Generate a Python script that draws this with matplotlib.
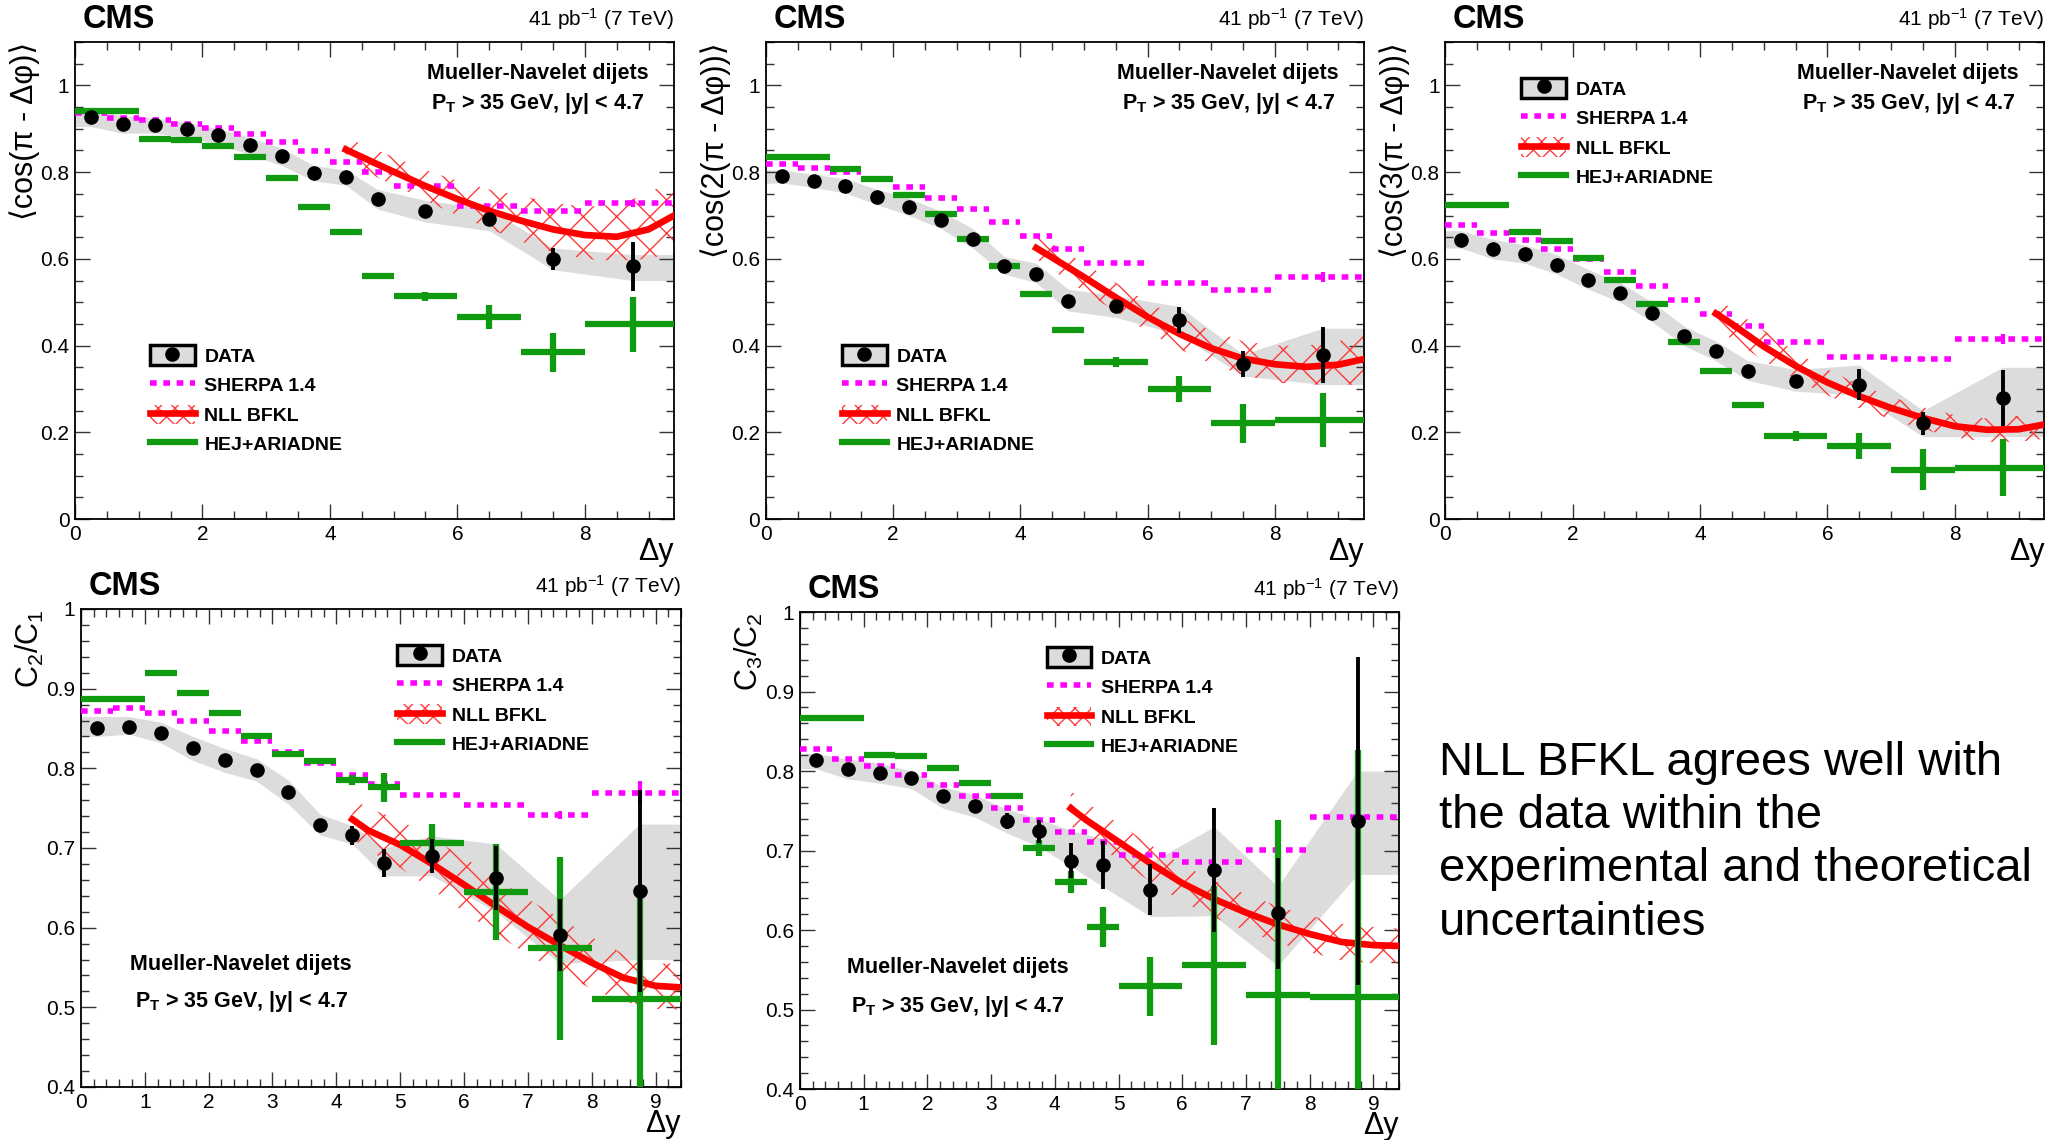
import matplotlib
matplotlib.use("Agg")
import matplotlib.pyplot as plt
import matplotlib.patches as mpatches
from matplotlib.lines import Line2D
from matplotlib.legend_handler import HandlerTuple
from matplotlib.ticker import MultipleLocator, FuncFormatter

plt.rcParams["font.family"] = ["Liberation Sans", "DejaVu Sans"]
plt.rcParams["mathtext.fontset"] = "custom"
plt.rcParams["mathtext.rm"] = "Liberation Sans"
plt.rcParams["mathtext.it"] = "Liberation Sans:italic"
plt.rcParams["mathtext.bf"] = "Liberation Sans:bold"
plt.rcParams["hatch.linewidth"] = 1.0

# %% =========================
# Datos
# ============================

bin_lo = [0, 0.5, 1, 1.5, 2, 2.5, 3, 3.5, 4, 4.5, 5, 6, 7, 8]
bin_hi = [0.5, 1, 1.5, 2, 2.5, 3, 3.5, 4, 4.5, 5, 6, 7, 8, 9.5]
x_data = [0.25, 0.75, 1.25, 1.75, 2.25, 2.75, 3.25, 3.75, 4.25, 4.75, 5.5, 6.5, 7.5, 8.75]
x_nll = [4.25, 4.5, 5, 5.5, 6, 6.5, 7, 7.5, 8, 8.5, 9, 9.4]

# <cos(pi - dphi)>
data1 = [0.927, 0.910, 0.909, 0.900, 0.885, 0.862, 0.837, 0.799, 0.789, 0.738, 0.711, 0.692, 0.600, 0.583]
stat1 = [0.003, 0.003, 0.003, 0.003, 0.003, 0.003, 0.004, 0.004, 0.005, 0.006, 0.007, 0.012, 0.025, 0.057]
syslo1 = [0.905, 0.89, 0.89, 0.88, 0.865, 0.84, 0.815, 0.78, 0.77, 0.715, 0.685, 0.665, 0.575, 0.55]
syshi1 = [0.945, 0.93, 0.925, 0.915, 0.90, 0.88, 0.855, 0.815, 0.805, 0.76, 0.735, 0.715, 0.625, 0.61]
sherpa1 = [0.937, 0.925, 0.920, 0.912, 0.902, 0.888, 0.870, 0.849, 0.824, 0.801, 0.768, 0.723, 0.711, 0.728]
sherpa_err1 = [0, 0, 0, 0, 0, 0, 0, 0, 0, 0, 0, 0, 0.004, 0.008]
hej1 = [0.942, 0.942, 0.877, 0.875, 0.860, 0.835, 0.787, 0.720, 0.663, 0.560, 0.514, 0.466, 0.385, 0.449]
hej_err1 = [0, 0, 0, 0, 0, 0, 0, 0, 0, 0.005, 0.01, 0.028, 0.045, 0.064]
nll1 = [0.852, 0.835, 0.801, 0.768, 0.738, 0.711, 0.688, 0.668, 0.655, 0.651, 0.668, 0.700]
nll_lo1 = [0.825, 0.805, 0.77, 0.735, 0.70, 0.67, 0.64, 0.615, 0.60, 0.595, 0.60, 0.615]
nll_hi1 = [0.88, 0.865, 0.835, 0.805, 0.78, 0.76, 0.745, 0.73, 0.72, 0.725, 0.75, 0.79]

# <cos(2(pi - dphi))>
data2 = [0.791, 0.779, 0.768, 0.742, 0.719, 0.689, 0.646, 0.583, 0.566, 0.503, 0.491, 0.459, 0.357, 0.378]
stat2 = [0.003, 0.003, 0.003, 0.003, 0.003, 0.003, 0.004, 0.005, 0.006, 0.006, 0.01, 0.03, 0.03, 0.065]
syslo2 = [0.775, 0.765, 0.752, 0.725, 0.70, 0.67, 0.625, 0.565, 0.545, 0.48, 0.465, 0.425, 0.33, 0.31]
syshi2 = [0.805, 0.795, 0.785, 0.76, 0.74, 0.71, 0.67, 0.605, 0.59, 0.53, 0.515, 0.49, 0.38, 0.44]
sherpa2 = [0.818, 0.810, 0.800, 0.784, 0.766, 0.741, 0.714, 0.685, 0.653, 0.623, 0.590, 0.545, 0.528, 0.558]
sherpa_err2 = [0, 0, 0, 0, 0, 0, 0, 0, 0, 0, 0, 0, 0.004, 0.012]
hej2 = [0.835, 0.835, 0.808, 0.784, 0.748, 0.703, 0.646, 0.583, 0.520, 0.436, 0.362, 0.300, 0.221, 0.228]
hej_err2 = [0, 0, 0, 0, 0, 0, 0, 0, 0.002, 0.007, 0.012, 0.03, 0.045, 0.063]
nll2 = [0.625, 0.603, 0.558, 0.511, 0.466, 0.427, 0.394, 0.370, 0.357, 0.351, 0.356, 0.369]
nll_lo2 = [0.60, 0.575, 0.525, 0.478, 0.432, 0.392, 0.358, 0.332, 0.315, 0.31, 0.31, 0.31]
nll_hi2 = [0.655, 0.635, 0.59, 0.545, 0.50, 0.465, 0.435, 0.41, 0.40, 0.40, 0.41, 0.43]

# <cos(3(pi - dphi))>
data3 = [0.643, 0.622, 0.612, 0.587, 0.551, 0.522, 0.476, 0.422, 0.388, 0.342, 0.319, 0.310, 0.221, 0.279]
stat3 = [0.003, 0.003, 0.003, 0.003, 0.003, 0.004, 0.004, 0.005, 0.006, 0.007, 0.01, 0.035, 0.027, 0.065]
syslo3 = [0.625, 0.60, 0.59, 0.565, 0.53, 0.50, 0.455, 0.40, 0.365, 0.32, 0.295, 0.285, 0.19, 0.19]
syshi3 = [0.665, 0.645, 0.632, 0.61, 0.575, 0.545, 0.50, 0.445, 0.41, 0.365, 0.345, 0.355, 0.25, 0.35]
sherpa3 = [0.677, 0.659, 0.643, 0.623, 0.600, 0.569, 0.537, 0.506, 0.472, 0.445, 0.409, 0.373, 0.369, 0.415]
sherpa_err3 = [0, 0, 0, 0, 0, 0, 0, 0, 0, 0, 0, 0, 0.005, 0.012]
hej3 = [0.724, 0.724, 0.662, 0.642, 0.602, 0.551, 0.497, 0.409, 0.342, 0.263, 0.191, 0.168, 0.114, 0.118]
hej_err3 = [0, 0, 0, 0, 0, 0, 0, 0, 0, 0.008, 0.012, 0.03, 0.047, 0.066]
nll3 = [0.474, 0.450, 0.398, 0.353, 0.315, 0.283, 0.256, 0.233, 0.214, 0.206, 0.207, 0.218]
nll_lo3 = [0.44, 0.415, 0.365, 0.322, 0.285, 0.255, 0.23, 0.207, 0.188, 0.178, 0.178, 0.185]
nll_hi3 = [0.51, 0.485, 0.435, 0.385, 0.345, 0.31, 0.282, 0.258, 0.24, 0.232, 0.238, 0.25]

# C2/C1
data4 = [0.851, 0.852, 0.844, 0.825, 0.811, 0.798, 0.770, 0.729, 0.716, 0.681, 0.690, 0.662, 0.591, 0.646]
stat4 = [0.003, 0.003, 0.003, 0.003, 0.004, 0.004, 0.005, 0.006, 0.012, 0.018, 0.021, 0.04, 0.045, 0.127]
syslo4 = [0.84, 0.843, 0.832, 0.81, 0.795, 0.784, 0.755, 0.716, 0.705, 0.665, 0.665, 0.62, 0.555, 0.56]
syshi4 = [0.865, 0.865, 0.858, 0.84, 0.825, 0.812, 0.785, 0.742, 0.728, 0.70, 0.715, 0.705, 0.635, 0.73]
sherpa4 = [0.872, 0.876, 0.869, 0.860, 0.847, 0.834, 0.820, 0.807, 0.791, 0.780, 0.767, 0.754, 0.741, 0.769]
sherpa_err4 = [0, 0, 0, 0, 0, 0, 0, 0, 0, 0, 0, 0, 0.005, 0.015]
hej4 = [0.887, 0.887, 0.920, 0.895, 0.870, 0.841, 0.818, 0.809, 0.785, 0.776, 0.706, 0.645, 0.574, 0.511]
hej_err4 = [0, 0, 0, 0, 0, 0, 0, 0, 0.006, 0.018, 0.024, 0.06, 0.115, 0.13]
nll4 = [0.736, 0.722, 0.704, 0.680, 0.654, 0.627, 0.601, 0.578, 0.556, 0.537, 0.527, 0.525]
nll_lo4 = [0.712, 0.697, 0.675, 0.648, 0.62, 0.592, 0.566, 0.544, 0.523, 0.507, 0.498, 0.497]
nll_hi4 = [0.762, 0.75, 0.735, 0.712, 0.688, 0.662, 0.636, 0.612, 0.588, 0.567, 0.555, 0.555]

# C3/C2
data5 = [0.814, 0.803, 0.797, 0.791, 0.768, 0.756, 0.737, 0.724, 0.687, 0.682, 0.651, 0.675, 0.621, 0.737]
stat5 = [0.003, 0.003, 0.003, 0.004, 0.004, 0.005, 0.01, 0.015, 0.022, 0.03, 0.032, 0.078, 0.07, 0.206]
syslo5 = [0.803, 0.79, 0.785, 0.778, 0.753, 0.742, 0.722, 0.705, 0.68, 0.655, 0.617, 0.618, 0.555, 0.67]
syshi5 = [0.822, 0.815, 0.81, 0.80, 0.78, 0.77, 0.752, 0.74, 0.725, 0.715, 0.685, 0.73, 0.655, 0.80]
sherpa5 = [0.828, 0.815, 0.806, 0.795, 0.783, 0.768, 0.753, 0.739, 0.723, 0.711, 0.695, 0.685, 0.701, 0.742]
sherpa_err5 = [0, 0, 0, 0, 0, 0, 0, 0, 0, 0, 0, 0, 0.01, 0.02]
hej5 = [0.867, 0.867, 0.820, 0.819, 0.804, 0.785, 0.769, 0.703, 0.660, 0.604, 0.529, 0.556, 0.518, 0.516]
hej_err5 = [0, 0, 0, 0, 0, 0, 0, 0.01, 0.014, 0.025, 0.037, 0.1, 0.22, 0.31]
nll5 = [0.753, 0.738, 0.711, 0.684, 0.659, 0.639, 0.622, 0.607, 0.595, 0.585, 0.581, 0.580]
nll_lo5 = [0.731, 0.716, 0.688, 0.661, 0.636, 0.616, 0.599, 0.584, 0.572, 0.562, 0.558, 0.558]
nll_hi5 = [0.775, 0.76, 0.734, 0.707, 0.682, 0.662, 0.645, 0.63, 0.618, 0.608, 0.604, 0.602]

ylabels = [
    "⟨cos(π - Δφ)⟩",
    "⟨cos(2(π - Δφ))⟩",
    "⟨cos(3(π - Δφ))⟩",
    r"C$_2$/C$_1$",
    r"C$_3$/C$_2$",
]

GREY = "#dcdcdc"
MAGENTA = "#ff00ff"
RED = "#ff0000"
HATCH_RED = "#ff3a3a"
GREEN = "#109a10"
XMAX = 9.4

# %% =========================
# Funcion para cada panel
# ============================


def dibujar_panel(ax, data, stat, syslo, syshi, sherpa, sherpa_err, hej, hej_err,
                  nll, nll_lo, nll_hi, ylabel, fila, leg_pos, txt_pos):
    # banda sistematica
    xb = [0] + x_data + [XMAX]
    lo = [syslo[0]] + syslo + [syslo[-1]]
    hi = [syshi[0]] + syshi + [syshi[-1]]
    ax.fill_between(xb, lo, hi, color=GREY, lw=0, zorder=1)

    # NLL BFKL
    ax.fill_between(x_nll, nll_lo, nll_hi, facecolor="none", edgecolor=HATCH_RED,
                    hatch="x", lw=0, zorder=2)
    ax.plot(x_nll, nll, color=RED, lw=4.8, zorder=4)

    # SHERPA
    ax.hlines(sherpa, bin_lo, bin_hi, colors=MAGENTA, linestyles=(0, (1.2, 1.2)),
              lw=4, zorder=3)
    ax.errorbar(x_data, sherpa, yerr=sherpa_err, fmt="none", ecolor=MAGENTA,
                elinewidth=3, capsize=0, zorder=3)

    # HEJ+ARIADNE
    ax.hlines(hej, bin_lo, bin_hi, colors=GREEN, lw=4.5, zorder=5)
    ax.errorbar(x_data, hej, yerr=hej_err, fmt="none", ecolor=GREEN,
                elinewidth=4.5, capsize=0, zorder=5)

    # DATA
    ax.errorbar(x_data, data, yerr=stat, fmt="o", color="black", ms=9.5,
                elinewidth=2.8, capsize=0, zorder=6)

    ax.set_xlim(0, XMAX)
    if fila == 0:
        ax.set_ylim(0, 1.1)
        ax.yaxis.set_major_locator(MultipleLocator(0.2))
        ax.yaxis.set_minor_locator(MultipleLocator(0.05))
        ax.xaxis.set_major_locator(MultipleLocator(2))
        ax.xaxis.set_minor_locator(MultipleLocator(0.5))
    else:
        ax.set_ylim(0.4, 1.0)
        ax.yaxis.set_major_locator(MultipleLocator(0.1))
        ax.yaxis.set_minor_locator(MultipleLocator(0.02))
        ax.xaxis.set_major_locator(MultipleLocator(1))
        ax.xaxis.set_minor_locator(MultipleLocator(0.2))
    fmt = FuncFormatter(lambda v, p: "%g" % round(v, 3))
    ax.xaxis.set_major_formatter(fmt)
    ax.yaxis.set_major_formatter(fmt)
    ax.tick_params(which="both", direction="in", top=True, right=True,
                   labelsize=15, width=1.0, colors="#333333", labelcolor="black")
    ax.tick_params(which="major", length=11, pad=4)
    ax.tick_params(which="minor", length=6)
    for s in ax.spines.values():
        s.set_linewidth(1.3)

    ax.set_ylabel(ylabel, fontsize=22, loc="top")
    ax.yaxis.set_label_coords(-0.058, 1.0)
    ax.set_xlabel("Δy", fontsize=22, loc="right")
    ax.xaxis.set_label_coords(1.0, -0.038 if fila == 0 else -0.047)

    ax.text(0.013, 1.048, "CMS", transform=ax.transAxes, fontsize=23.5,
            fontweight="bold", ha="left", va="center")
    ax.text(1.0, 1.048, r"41 pb$^{\mathregular{-1}}$ (7 TeV)", transform=ax.transAxes,
            fontsize=15, ha="right", va="center")

    ax.text(txt_pos[0], txt_pos[1], "Mueller-Navelet dijets", transform=ax.transAxes,
            fontsize=15.5, fontweight="bold", ha="center", va="center")
    ax.text(txt_pos[0], txt_pos[2], r"$\mathbf{P_T}$ > 35 GeV, |y| < 4.7",
            transform=ax.transAxes, fontsize=15.5, fontweight="bold",
            ha="center", va="center")

    h_data = (mpatches.Patch(facecolor=GREY, edgecolor="black", lw=2.5),
              Line2D([], [], marker="o", ls="none", color="black", ms=9.5))
    h_sherpa = Line2D([], [], color=MAGENTA, lw=4, ls=(0, (1.2, 1.2)))
    h_nll = (mpatches.Patch(facecolor="none", edgecolor=HATCH_RED, hatch="xx", lw=0),
             Line2D([], [], color=RED, lw=4.8))
    h_hej = Line2D([], [], color=GREEN, lw=4.5)
    ax.legend([h_data, h_sherpa, h_nll, h_hej],
              ["DATA", "SHERPA 1.4", "NLL BFKL", "HEJ+ARIADNE"],
              handler_map={tuple: HandlerTuple(ndivide=1)},
              loc="upper left", bbox_to_anchor=leg_pos, frameon=False,
              prop={"weight": "bold", "size": 14}, handlelength=2.3,
              handleheight=1.15, labelspacing=0.48, handletextpad=0.5,
              borderpad=0, borderaxespad=0)


# %% =========================
# Figura
# ============================

fig = plt.figure(figsize=(20.6, 11.4), dpi=100)

ax1 = fig.add_axes([0.0364, 0.5447, 0.2908, 0.4184])
ax2 = fig.add_axes([0.3718, 0.5447, 0.2903, 0.4184])
ax3 = fig.add_axes([0.7015, 0.5447, 0.2908, 0.4184])
ax4 = fig.add_axes([0.0393, 0.0465, 0.2913, 0.4193])
ax5 = fig.add_axes([0.3883, 0.0447, 0.2908, 0.4184])

dibujar_panel(ax1, data1, stat1, syslo1, syshi1, sherpa1, sherpa_err1, hej1, hej_err1,
              nll1, nll_lo1, nll_hi1, ylabels[0], 0, (0.125, 0.364), (0.773, 0.935, 0.872))
dibujar_panel(ax2, data2, stat2, syslo2, syshi2, sherpa2, sherpa_err2, hej2, hej_err2,
              nll2, nll_lo2, nll_hi2, ylabels[1], 0, (0.127, 0.364), (0.773, 0.935, 0.872))
dibujar_panel(ax3, data3, stat3, syslo3, syshi3, sherpa3, sherpa_err3, hej3, hej_err3,
              nll3, nll_lo3, nll_hi3, ylabels[2], 0, (0.127, 0.924), (0.773, 0.935, 0.872))
dibujar_panel(ax4, data4, stat4, syslo4, syshi4, sherpa4, sherpa_err4, hej4, hej_err4,
              nll4, nll_lo4, nll_hi4, ylabels[3], 1, (0.527, 0.924), (0.267, 0.257, 0.178))
dibujar_panel(ax5, data5, stat5, syslo5, syshi5, sherpa5, sherpa_err5, hej5, hej_err5,
              nll5, nll_lo5, nll_hi5, ylabels[4], 1, (0.412, 0.926), (0.264, 0.254, 0.174))

fig.text(0.6985, 0.350,
         "NLL BFKL agrees well with\nthe data within the\nexperimental and theoretical\nuncertainties",
         fontsize=34, ha="left", va="top", linespacing=1.27)

fig.savefig("out.png", dpi=100)
